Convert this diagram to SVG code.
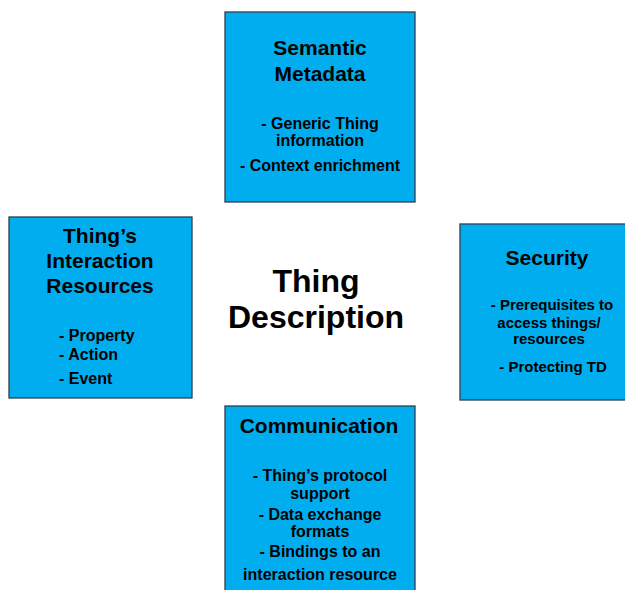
<svg xmlns="http://www.w3.org/2000/svg" width="625" height="590" viewBox="0 0 625 590">
<style>
.box{fill:#00AEEF;stroke:#2B3F52;stroke-width:1.3}
text{font-family:"Liberation Sans",Arial,sans-serif;font-weight:bold;fill:#000}
.t{font-size:21px;text-anchor:middle}
.b{font-size:16px;text-anchor:middle}
.s{font-size:15px;text-anchor:middle}
.l{font-size:16px}
.c{font-size:32px;text-anchor:middle}
</style>
<rect width="625" height="590" fill="#fff"/>
<g id="connectors"></g>
<g id="semantic">
<rect class="box" x="225" y="12" width="190" height="190"/>
<text class="t" x="320" y="55">Semantic</text>
<text class="t" x="320" y="81">Metadata</text>
<text class="b" x="320" y="129">- Generic Thing</text>
<text class="b" x="320" y="146">information</text>
<text class="b" x="320" y="171">- Context enrichment</text>
</g>
<g id="interaction">
<rect class="box" x="9" y="217" width="183" height="181"/>
<text class="t" x="100" y="243">Thing’s</text>
<text class="t" x="100" y="268">Interaction</text>
<text class="t" x="100" y="293">Resources</text>
<text class="l" x="59" y="341">- Property</text>
<text class="l" x="59" y="360">- Action</text>
<text class="l" x="59" y="384">- Event</text>
</g>
<g id="center">
<text class="c" x="316" y="292">Thing</text>
<text class="c" x="316" y="328">Description</text>
</g>
<g id="security">
<rect class="box" x="460" y="224" width="190" height="176"/>
<text class="t" x="547" y="265">Security</text>
<text class="s" x="552" y="310">- Prerequisites to</text>
<text class="s" x="549" y="328">access things/</text>
<text class="s" x="549" y="344">resources</text>
<text class="s" x="553" y="372">- Protecting TD</text>
</g>
<g id="communication">
<rect class="box" x="225" y="406" width="190" height="200"/>
<text class="t" x="319" y="433">Communication</text>
<text class="b" x="320" y="481">- Thing’s protocol</text>
<text class="b" x="320" y="499">support</text>
<text class="b" x="320" y="520">- Data exchange</text>
<text class="b" x="320" y="537">formats</text>
<text class="b" x="320" y="557">- Bindings to an</text>
<text class="b" x="320" y="580">interaction resource</text>
</g>
</svg>
